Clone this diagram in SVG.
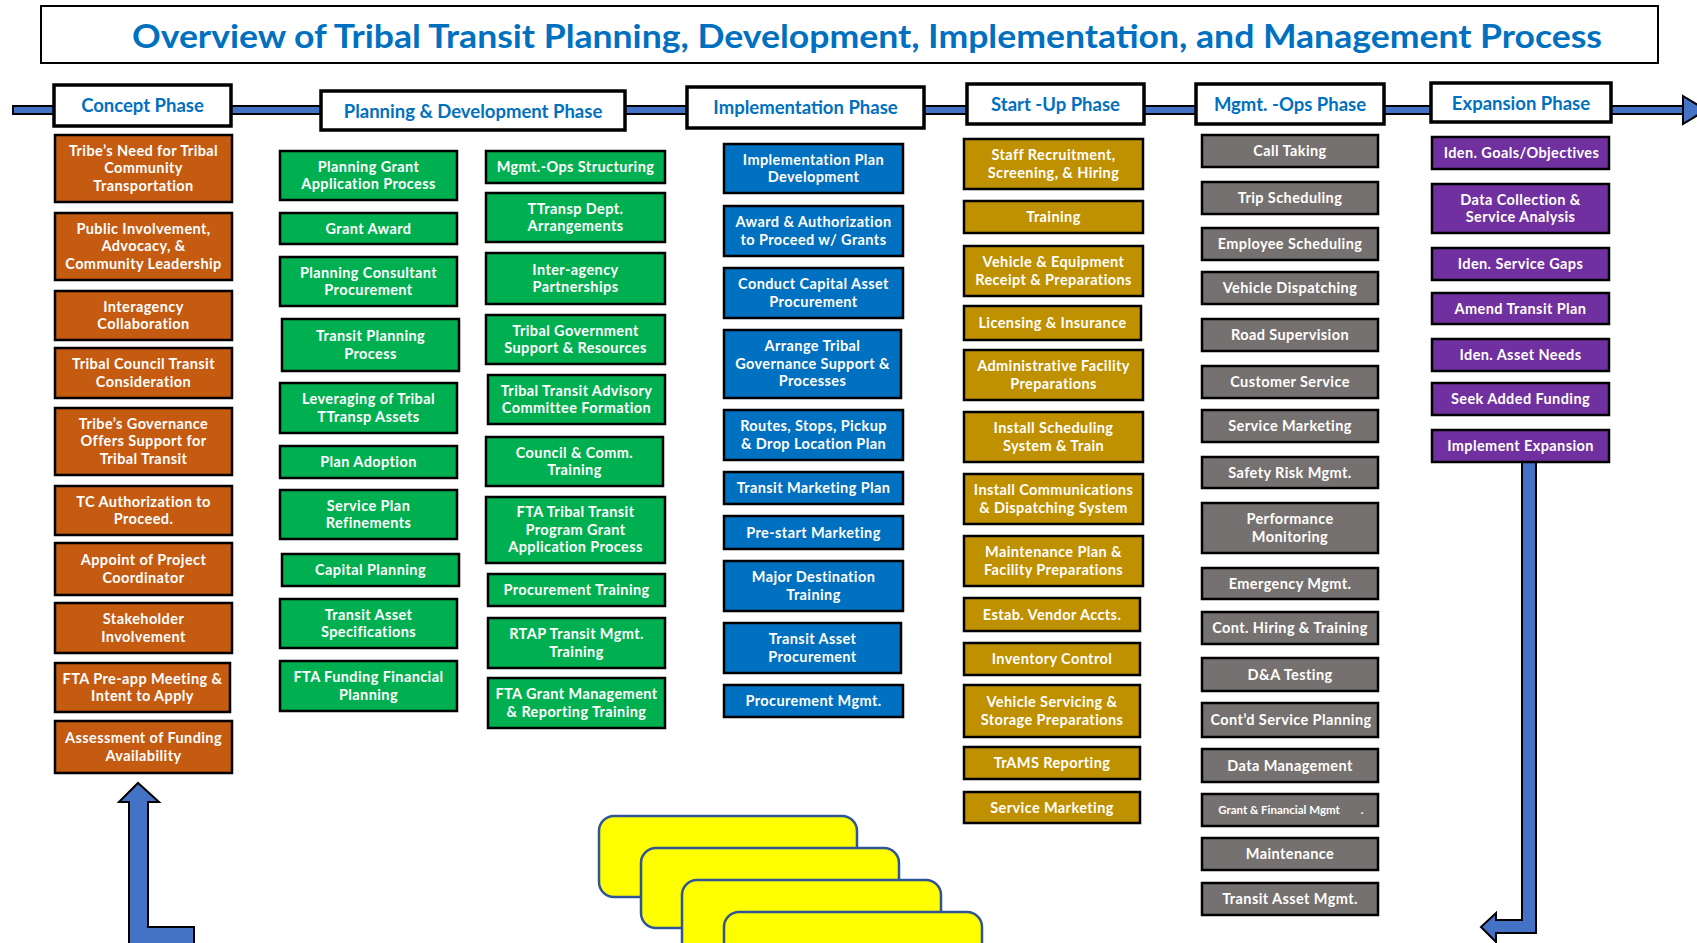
<svg xmlns="http://www.w3.org/2000/svg" width="1697" height="943" viewBox="0 0 1697 943">
<style>
.n rect{stroke:#000;stroke-width:2.5}
.n text{font-family:Lato,"Open Sans","Liberation Sans",sans-serif;font-weight:bold;font-size:14.5px;letter-spacing:0.4px;fill:#fff;text-anchor:middle}
.or rect{fill:#C55A11}
.gr rect{fill:#00B050}
.bl rect{fill:#0070C0}
.go rect{fill:#BF9000}
.gy rect{fill:#767171}
.pu rect{fill:#7030A0}
.ph rect{fill:#fff;stroke:#000;stroke-width:3.5}
.ph text{font-family:Lato,"Open Sans","Liberation Sans",sans-serif;font-weight:bold;font-size:18.5px;fill:#0070C0;text-anchor:middle}
.arr{fill:#4472C4;stroke:#000;stroke-width:2}
.yel{fill:#FFFF00;stroke:#2F5597;stroke-width:2.5}
</style>
<rect width="1697" height="943" fill="#fff"/>
<g id="title">
<rect x="41" y="6" width="1617" height="57" fill="#fff" stroke="#000" stroke-width="2"/>
<text x="867" y="47.5" font-family="Lato,'Open Sans','Liberation Sans',sans-serif" font-weight="bold" font-size="32" fill="#0070C0" text-anchor="middle" textLength="1470" lengthAdjust="spacingAndGlyphs">Overview of Tribal Transit Planning, Development, Implementation, and Management Process</text>
</g>
<g id="connectors">
<rect class="arr" x="13" y="106" width="1670" height="8" stroke-width="1.2"/>
<polygon class="arr" points="1683,96 1706,110 1683,124"/>
<polygon class="arr" points="119,802 138,783 159,802 148,802 148,927 194,927 194,950 129,950 129,802"/>
<polygon class="arr" points="1522,462 1536,462 1536,933 1496,933 1496,942 1481,927 1496,913 1496,920 1522,920"/>
</g>
<g id="phases" class="ph">
<g id="ph-concept"><rect x="54" y="85" width="177" height="41"/><text x="142.5" y="112">Concept Phase</text></g>
<g id="ph-planning"><rect x="321" y="91" width="304" height="39"/><text x="473" y="117.5">Planning &amp; Development Phase</text></g>
<g id="ph-impl"><rect x="687" y="87" width="237" height="41"/><text x="805.5" y="114">Implementation Phase</text></g>
<g id="ph-startup"><rect x="967" y="84" width="177" height="40"/><text x="1055.5" y="111">Start -Up Phase</text></g>
<g id="ph-mgmt"><rect x="1196" y="84" width="188" height="40"/><text x="1290" y="111">Mgmt. -Ops Phase</text></g>
<g id="ph-exp"><rect x="1431" y="83" width="180" height="39"/><text x="1521" y="109.5">Expansion Phase</text></g>
</g>
<g id="concept" class="n or">
<g id="c1"><rect x="55" y="135" width="177" height="67"/><text><tspan x="143.5" y="155.5">Tribe’s Need for Tribal</tspan><tspan x="143.5" y="173">Community</tspan><tspan x="143.5" y="190.5">Transportation</tspan></text></g>
<g id="c2"><rect x="55" y="213" width="177" height="67"/><text><tspan x="143.5" y="233.5">Public Involvement,</tspan><tspan x="143.5" y="251">Advocacy, &amp;</tspan><tspan x="143.5" y="268.5">Community Leadership</tspan></text></g>
<g id="c3"><rect x="55" y="291" width="177" height="49"/><text><tspan x="143.5" y="311.5">Interagency</tspan><tspan x="143.5" y="329">Collaboration</tspan></text></g>
<g id="c4"><rect x="55" y="348" width="177" height="50"/><text><tspan x="143.5" y="369">Tribal Council Transit</tspan><tspan x="143.5" y="386.5">Consideration</tspan></text></g>
<g id="c5"><rect x="55" y="408" width="177" height="67"/><text><tspan x="143.5" y="428.5">Tribe’s Governance</tspan><tspan x="143.5" y="446">Offers Support for</tspan><tspan x="143.5" y="463.5">Tribal Transit</tspan></text></g>
<g id="c6"><rect x="55" y="486" width="177" height="49"/><text><tspan x="143.5" y="506.5">TC Authorization to</tspan><tspan x="143.5" y="524">Proceed.</tspan></text></g>
<g id="c7"><rect x="55" y="543" width="177" height="52"/><text><tspan x="143.5" y="565">Appoint of Project</tspan><tspan x="143.5" y="582.5">Coordinator</tspan></text></g>
<g id="c8"><rect x="55" y="603" width="177" height="50"/><text><tspan x="143.5" y="624">Stakeholder</tspan><tspan x="143.5" y="641.5">Involvement</tspan></text></g>
<g id="c9"><rect x="55" y="663" width="175" height="49"/><text><tspan x="142.5" y="683.5">FTA Pre-app Meeting &amp;</tspan><tspan x="142.5" y="701">Intent to Apply</tspan></text></g>
<g id="c10"><rect x="55" y="721" width="177" height="52"/><text><tspan x="143.5" y="743">Assessment of Funding</tspan><tspan x="143.5" y="760.5">Availability</tspan></text></g>
</g>
<g id="planning1" class="n gr">
<g id="p1"><rect x="280" y="151" width="177" height="49"/><text><tspan x="368.5" y="171.5">Planning Grant</tspan><tspan x="368.5" y="189">Application Process</tspan></text></g>
<g id="p2"><rect x="280" y="213" width="177" height="31"/><text><tspan x="368.5" y="233.5">Grant Award</tspan></text></g>
<g id="p3"><rect x="280" y="257" width="177" height="49"/><text><tspan x="368.5" y="277.5">Planning Consultant</tspan><tspan x="368.5" y="295">Procurement</tspan></text></g>
<g id="p4"><rect x="282" y="319" width="177" height="52"/><text><tspan x="370.5" y="341">Transit Planning</tspan><tspan x="370.5" y="358.5">Process</tspan></text></g>
<g id="p5"><rect x="280" y="383" width="177" height="50"/><text><tspan x="368.5" y="404">Leveraging of Tribal</tspan><tspan x="368.5" y="421.5">TTransp Assets</tspan></text></g>
<g id="p6"><rect x="280" y="446" width="177" height="32"/><text><tspan x="368.5" y="467">Plan Adoption</tspan></text></g>
<g id="p7"><rect x="280" y="490" width="177" height="49"/><text><tspan x="368.5" y="510.5">Service Plan</tspan><tspan x="368.5" y="528">Refinements</tspan></text></g>
<g id="p8"><rect x="282" y="554" width="177" height="32"/><text><tspan x="370.5" y="575">Capital Planning</tspan></text></g>
<g id="p9"><rect x="280" y="599" width="177" height="49"/><text><tspan x="368.5" y="619.5">Transit Asset</tspan><tspan x="368.5" y="637">Specifications</tspan></text></g>
<g id="p10"><rect x="280" y="661" width="177" height="50"/><text><tspan x="368.5" y="682">FTA Funding Financial</tspan><tspan x="368.5" y="699.5">Planning</tspan></text></g>
</g>
<g id="planning2" class="n gr">
<g id="q1"><rect x="486" y="151" width="179" height="32"/><text><tspan x="575.5" y="172">Mgmt.-Ops Structuring</tspan></text></g>
<g id="q2"><rect x="486" y="193" width="179" height="49"/><text><tspan x="575.5" y="213.5">TTransp Dept.</tspan><tspan x="575.5" y="231">Arrangements</tspan></text></g>
<g id="q3"><rect x="486" y="253" width="179" height="51"/><text><tspan x="575.5" y="274.5">Inter-agency</tspan><tspan x="575.5" y="292">Partnerships</tspan></text></g>
<g id="q4"><rect x="486" y="315" width="179" height="49"/><text><tspan x="575.5" y="335.5">Tribal Government</tspan><tspan x="575.5" y="353">Support &amp; Resources</tspan></text></g>
<g id="q5"><rect x="488" y="375" width="177" height="49"/><text><tspan x="576.5" y="395.5">Tribal Transit Advisory</tspan><tspan x="576.5" y="413">Committee Formation</tspan></text></g>
<g id="q6"><rect x="486" y="437" width="177" height="49"/><text><tspan x="574.5" y="457.5">Council &amp; Comm.</tspan><tspan x="574.5" y="475">Training</tspan></text></g>
<g id="q7"><rect x="486" y="497" width="179" height="66"/><text><tspan x="575.5" y="517">FTA Tribal Transit</tspan><tspan x="575.5" y="534.5">Program Grant</tspan><tspan x="575.5" y="552">Application Process</tspan></text></g>
<g id="q8"><rect x="488" y="574" width="177" height="32"/><text><tspan x="576.5" y="595">Procurement Training</tspan></text></g>
<g id="q9"><rect x="488" y="618" width="177" height="50"/><text><tspan x="576.5" y="639">RTAP Transit Mgmt.</tspan><tspan x="576.5" y="656.5">Training</tspan></text></g>
<g id="q10"><rect x="488" y="678" width="177" height="50"/><text><tspan x="576.5" y="699">FTA Grant Management</tspan><tspan x="576.5" y="716.5">&amp; Reporting Training</tspan></text></g>
</g>
<g id="implementation" class="n bl">
<g id="i1"><rect x="724" y="144" width="179" height="49"/><text><tspan x="813.5" y="164.5">Implementation Plan</tspan><tspan x="813.5" y="182">Development</tspan></text></g>
<g id="i2"><rect x="724" y="206" width="179" height="50"/><text><tspan x="813.5" y="227">Award &amp; Authorization</tspan><tspan x="813.5" y="244.5">to Proceed w/ Grants</tspan></text></g>
<g id="i3"><rect x="724" y="268" width="179" height="50"/><text><tspan x="813.5" y="289">Conduct Capital Asset</tspan><tspan x="813.5" y="306.5">Procurement</tspan></text></g>
<g id="i4"><rect x="724" y="330" width="177" height="68"/><text><tspan x="812.5" y="351">Arrange Tribal</tspan><tspan x="812.5" y="368.5">Governance Support &amp;</tspan><tspan x="812.5" y="386">Processes</tspan></text></g>
<g id="i5"><rect x="724" y="410" width="179" height="50"/><text><tspan x="813.5" y="431">Routes, Stops, Pickup</tspan><tspan x="813.5" y="448.5">&amp; Drop Location Plan</tspan></text></g>
<g id="i6"><rect x="724" y="472" width="179" height="32"/><text><tspan x="813.5" y="493">Transit Marketing Plan</tspan></text></g>
<g id="i7"><rect x="724" y="516" width="179" height="33"/><text><tspan x="813.5" y="537.5">Pre-start Marketing</tspan></text></g>
<g id="i8"><rect x="724" y="561" width="179" height="50"/><text><tspan x="813.5" y="582">Major Destination</tspan><tspan x="813.5" y="599.5">Training</tspan></text></g>
<g id="i9"><rect x="724" y="623" width="177" height="50"/><text><tspan x="812.5" y="644">Transit Asset</tspan><tspan x="812.5" y="661.5">Procurement</tspan></text></g>
<g id="i10"><rect x="724" y="685" width="179" height="32"/><text><tspan x="813.5" y="706">Procurement Mgmt.</tspan></text></g>
</g>
<g id="startup" class="n go">
<g id="s1"><rect x="964" y="139" width="179" height="50"/><text><tspan x="1053.5" y="160">Staff Recruitment,</tspan><tspan x="1053.5" y="177.5">Screening, &amp; Hiring</tspan></text></g>
<g id="s2"><rect x="964" y="201" width="179" height="32"/><text><tspan x="1053.5" y="222">Training</tspan></text></g>
<g id="s3"><rect x="964" y="246" width="179" height="50"/><text><tspan x="1053.5" y="267">Vehicle &amp; Equipment</tspan><tspan x="1053.5" y="284.5">Receipt &amp; Preparations</tspan></text></g>
<g id="s4"><rect x="964" y="306" width="177" height="34"/><text><tspan x="1052.5" y="328">Licensing &amp; Insurance</tspan></text></g>
<g id="s5"><rect x="964" y="350" width="179" height="50"/><text><tspan x="1053.5" y="371">Administrative Facility</tspan><tspan x="1053.5" y="388.5">Preparations</tspan></text></g>
<g id="s6"><rect x="964" y="412" width="179" height="50"/><text><tspan x="1053.5" y="433">Install Scheduling</tspan><tspan x="1053.5" y="450.5">System &amp; Train</tspan></text></g>
<g id="s7"><rect x="964" y="474" width="179" height="50"/><text><tspan x="1053.5" y="495">Install Communications</tspan><tspan x="1053.5" y="512.5">&amp; Dispatching System</tspan></text></g>
<g id="s8"><rect x="964" y="536" width="179" height="50"/><text><tspan x="1053.5" y="557">Maintenance Plan &amp;</tspan><tspan x="1053.5" y="574.5">Facility Preparations</tspan></text></g>
<g id="s9"><rect x="964" y="598" width="176" height="33"/><text><tspan x="1052" y="619.5">Estab. Vendor Accts.</tspan></text></g>
<g id="s10"><rect x="964" y="643" width="176" height="32"/><text><tspan x="1052" y="664">Inventory Control</tspan></text></g>
<g id="s11"><rect x="964" y="685" width="176" height="52"/><text><tspan x="1052" y="707">Vehicle Servicing &amp;</tspan><tspan x="1052" y="724.5">Storage Preparations</tspan></text></g>
<g id="s12"><rect x="964" y="747" width="176" height="32"/><text><tspan x="1052" y="768">TrAMS Reporting</tspan></text></g>
<g id="s13"><rect x="964" y="792" width="176" height="31"/><text><tspan x="1052" y="812.5">Service Marketing</tspan></text></g>
</g>
<g id="mgmtops" class="n gy">
<g id="m1"><rect x="1202" y="135" width="176" height="32"/><text><tspan x="1290" y="156">Call Taking</tspan></text></g>
<g id="m2"><rect x="1202" y="182" width="176" height="32"/><text><tspan x="1290" y="203">Trip Scheduling</tspan></text></g>
<g id="m3"><rect x="1202" y="228" width="176" height="32"/><text><tspan x="1290" y="249">Employee Scheduling</tspan></text></g>
<g id="m4"><rect x="1202" y="272" width="176" height="32"/><text><tspan x="1290" y="293">Vehicle Dispatching</tspan></text></g>
<g id="m5"><rect x="1202" y="319" width="176" height="32"/><text><tspan x="1290" y="340">Road Supervision</tspan></text></g>
<g id="m6"><rect x="1202" y="366" width="176" height="32"/><text><tspan x="1290" y="387">Customer Service</tspan></text></g>
<g id="m7"><rect x="1202" y="410" width="176" height="32"/><text><tspan x="1290" y="431">Service Marketing</tspan></text></g>
<g id="m8"><rect x="1202" y="457" width="176" height="31"/><text><tspan x="1290" y="477.5">Safety Risk Mgmt.</tspan></text></g>
<g id="m9"><rect x="1202" y="503" width="176" height="50"/><text><tspan x="1290" y="524">Performance</tspan><tspan x="1290" y="541.5">Monitoring</tspan></text></g>
<g id="m10"><rect x="1202" y="568" width="176" height="31"/><text><tspan x="1290" y="588.5">Emergency Mgmt.</tspan></text></g>
<g id="m11"><rect x="1202" y="612" width="176" height="32"/><text><tspan x="1290" y="633">Cont. Hiring &amp; Training</tspan></text></g>
<g id="m12"><rect x="1202" y="658" width="176" height="33"/><text><tspan x="1290" y="679.5">D&amp;A Testing</tspan></text></g>
<g id="m13"><rect x="1202" y="703" width="176" height="34"/><text><tspan x="1291" y="725">Cont’d Service Planning</tspan></text></g>
<g id="m14"><rect x="1202" y="749" width="176" height="33"/><text><tspan x="1290" y="770.5">Data Management</tspan></text></g>
<g id="m15"><rect x="1202" y="794" width="176" height="32"/><text style="font-size:11.5px;letter-spacing:0"><tspan x="1279" y="814">Grant &amp; Financial Mgmt</tspan><tspan x="1362" y="814">.</tspan></text></g>
<g id="m16"><rect x="1202" y="838" width="176" height="32"/><text><tspan x="1290" y="859">Maintenance</tspan></text></g>
<g id="m17"><rect x="1202" y="883" width="176" height="32"/><text><tspan x="1290" y="904">Transit Asset Mgmt.</tspan></text></g>
</g>
<g id="expansion" class="n pu">
<g id="e1"><rect x="1432" y="137" width="177" height="32"/><text><tspan x="1521.5" y="158">Iden. Goals/Objectives</tspan></text></g>
<g id="e2"><rect x="1432" y="184" width="177" height="49"/><text><tspan x="1520.5" y="204.5">Data Collection &amp;</tspan><tspan x="1520.5" y="222">Service Analysis</tspan></text></g>
<g id="e3"><rect x="1432" y="248" width="177" height="32"/><text><tspan x="1520.5" y="269">Iden. Service Gaps</tspan></text></g>
<g id="e4"><rect x="1432" y="293" width="177" height="31"/><text><tspan x="1520.5" y="313.5">Amend Transit Plan</tspan></text></g>
<g id="e5"><rect x="1432" y="339" width="177" height="32"/><text><tspan x="1520.5" y="360">Iden. Asset Needs</tspan></text></g>
<g id="e6"><rect x="1432" y="383" width="177" height="32"/><text><tspan x="1520.5" y="404">Seek Added Funding</tspan></text></g>
<g id="e7"><rect x="1432" y="430" width="177" height="32"/><text><tspan x="1520.5" y="451">Implement Expansion</tspan></text></g>
</g>
<g id="stack">
<rect class="yel" x="599" y="816" width="258" height="81" rx="15"/>
<rect class="yel" x="641" y="848" width="258" height="80" rx="15"/>
<rect class="yel" x="682" y="880" width="259" height="80" rx="15"/>
<rect class="yel" x="724" y="912" width="258" height="60" rx="15"/>
</g>
</svg>
